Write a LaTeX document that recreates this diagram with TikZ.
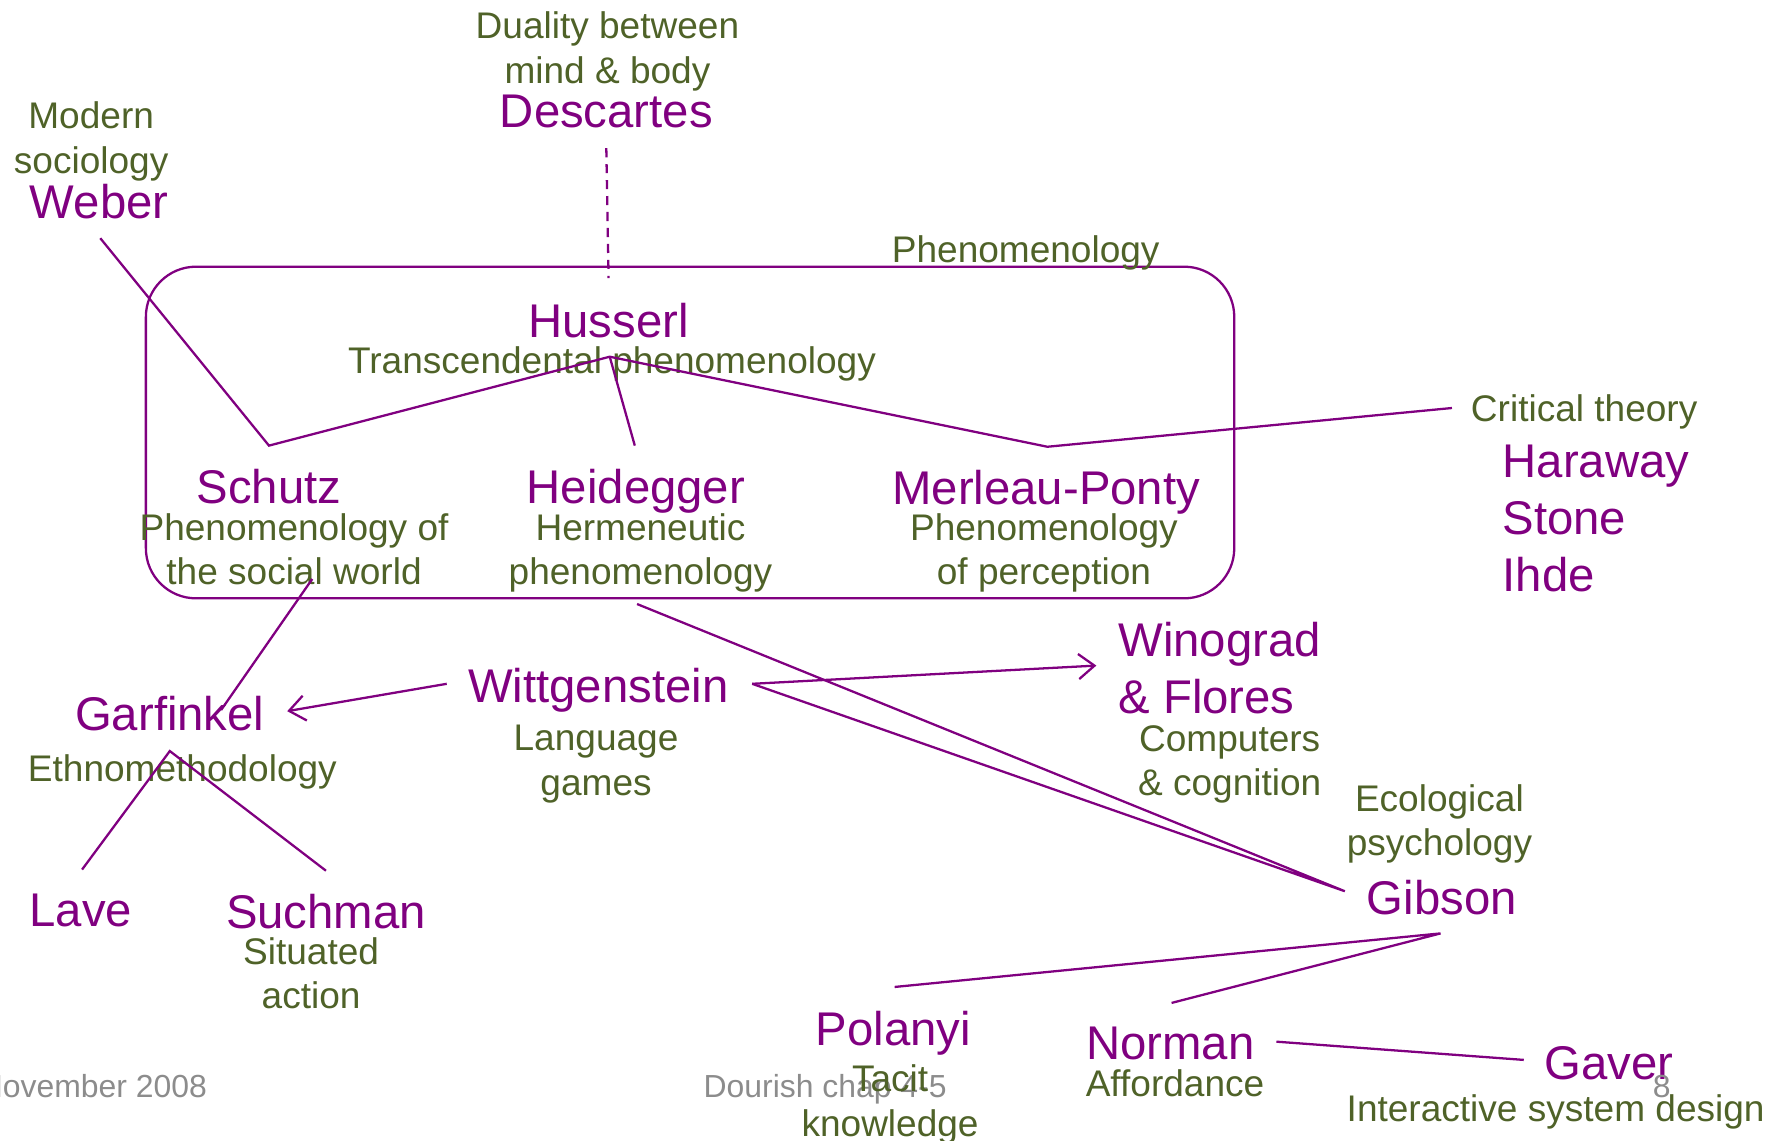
\documentclass[tikz,border=0pt]{standalone}
\usepackage{fontspec}
\setmainfont{Liberation Sans}
\usepackage{tikz}
\usetikzlibrary{arrows.meta}
\definecolor{pourpre}{RGB}{128,0,128}
\definecolor{kaki}{RGB}{79,98,40}
\definecolor{gris}{RGB}{140,140,140}

\begin{document}
\begin{tikzpicture}[x=0.5pt, y=-0.5pt,
	nom/.style={pourpre, inner sep=0pt, align=left, font=\fontsize{20.75}{25}\selectfont},
	idee/.style={kaki, inner sep=0pt, align=center, font=\fontsize{16.25}{19.5}\selectfont},
	pied/.style={gris, inner sep=0pt, font=\fontsize{14}{17}\selectfont},
	lien/.style={pourpre, line width=1pt},
	fleche/.style={lien, -{Straight Barb[length=7pt, width=11pt]}}]
	\useasboundingbox (0,0) rectangle (1568,1001);
	% le cadre de la phenomenologie
	\draw[lien, rounded corners=22pt] (128,234) rectangle (1083,525);
	\node[idee, anchor=base] (phenom) at (900,230) {Phenomenology};
	% Descartes, Weber
	\node[idee, anchor=north] (dualite) at (533,10) {Duality between\\mind \& body};
	\node[nom, anchor=base] (descartes) at (532,112) {Descartes};
	\node[idee, anchor=north] (socio) at (80,89) {Modern\\sociology};
	\node[nom, anchor=base] (weber) at (87,192) {Weber};
	% dans le cadre
	\node[nom, anchor=base] (husserl) at (534,296) {Husserl};
	\node[idee, anchor=base] (transc) at (537,328) {Transcendental phenomenology};
	\node[nom, anchor=base] (schutz) at (236,442) {Schutz};
	\node[idee, anchor=north] (monde) at (258,450) {Phenomenology of\\the social world};
	\node[nom, anchor=base] (heidegger) at (558,442) {Heidegger};
	\node[idee, anchor=north] (hermen) at (562,450) {Hermeneutic\\phenomenology};
	\node[nom, anchor=base] (merleau) at (918,443) {Merleau-Ponty};
	\node[idee, anchor=north] (percep) at (916,450) {Phenomenology\\of perception};
	% a droite
	\node[idee, anchor=base] (critique) at (1390,370) {Critical theory};
	\node[nom, anchor=north west] (haraway) at (1318,390) {Haraway\\Stone\\Ihde};
	\node[nom, anchor=north west] (winograd) at (981,546) {Winograd\\\& Flores};
	\node[idee, anchor=north] (cognition) at (1079,636) {Computers\\\& cognition};
	\node[idee, anchor=north] (ecolo) at (1263,688) {Ecological\\psychology};
	\node[nom, anchor=base] (gibson) at (1265,802) {Gibson};
	% au milieu et a gauche
	\node[nom, anchor=base] (wittgenstein) at (525,616) {Wittgenstein};
	\node[idee, anchor=north] (jeux) at (523,636) {Language\\games};
	\node[nom, anchor=base] (garfinkel) at (149,641) {Garfinkel};
	\node[idee, anchor=base] (ethno) at (160,686) {Ethnomethodology};
	\node[nom, anchor=base] (lave) at (71,813) {Lave};
	\node[nom, anchor=base] (suchman) at (286,815) {Suchman};
	\node[idee, anchor=north] (situe) at (273,822) {Situated\\action};
	% en bas
	\node[nom, anchor=base] (polanyi) at (784,917) {Polanyi};
	\node[nom, anchor=base] (norman) at (1027,930) {Norman};
	\node[idee, anchor=base] (afford) at (1031,962) {Affordance};
	\node[nom, anchor=base] (gaver) at (1412,947) {Gaver};
	\node[idee, anchor=base] (interact) at (1365,984) {Interactive system design};
	\node[pied, anchor=base east] (date) at (182,963) {November 2008};
	\node[pied, anchor=base] (chap) at (724,963) {Dourish chap 4-5};
	\node[pied, anchor=base] (page) at (1458,963) {8};
	\node[idee, anchor=north] (tacite) at (781,934) {Tacit\\knowledge};
	% points de liaison
	\coordinate (desc) at (532,130);
	\coordinate (cadre) at (534,244);
	\coordinate (wb) at (88,209);
	\coordinate (hus) at (535,313);
	\coordinate (sch) at (236,391);
	\coordinate (hei) at (557,391);
	\coordinate (mp) at (919,392);
	\coordinate (ct) at (1274,358);
	\coordinate (sw) at (274,508);
	\coordinate (ga) at (194,623);
	\coordinate (gb) at (149,659);
	\coordinate (lv) at (72,763);
	\coordinate (su) at (286,764);
	\coordinate (wg) at (392,600);
	\coordinate (gf) at (252,624);
	\coordinate (wd) at (660,600);
	\coordinate (wf) at (962,584);
	\coordinate (hb) at (559,530);
	\coordinate (gi) at (1180,782);
	\coordinate (gs) at (1264,819);
	\coordinate (po) at (785,866);
	\coordinate (no) at (1028,880);
	\coordinate (nr) at (1120,914);
	\coordinate (gv) at (1337,930);
	\draw[lien, dash pattern=on 4pt off 3pt] (desc) -- (cadre);
	\draw[lien] (wb) -- (sch) -- (hus) -- (mp) -- (ct);
	\draw[lien] (hus) -- (hei);
	\draw[lien] (sw) -- (ga);
	\draw[lien] (lv) -- (gb) -- (su);
	\draw[fleche] (wg) -- (gf);
	\draw[fleche] (wd) -- (wf);
	\draw[lien] (wd) -- (gi) -- (hb);
	\draw[lien] (po) -- (gs) -- (no);
	\draw[lien] (nr) -- (gv);
\end{tikzpicture}
\end{document}
